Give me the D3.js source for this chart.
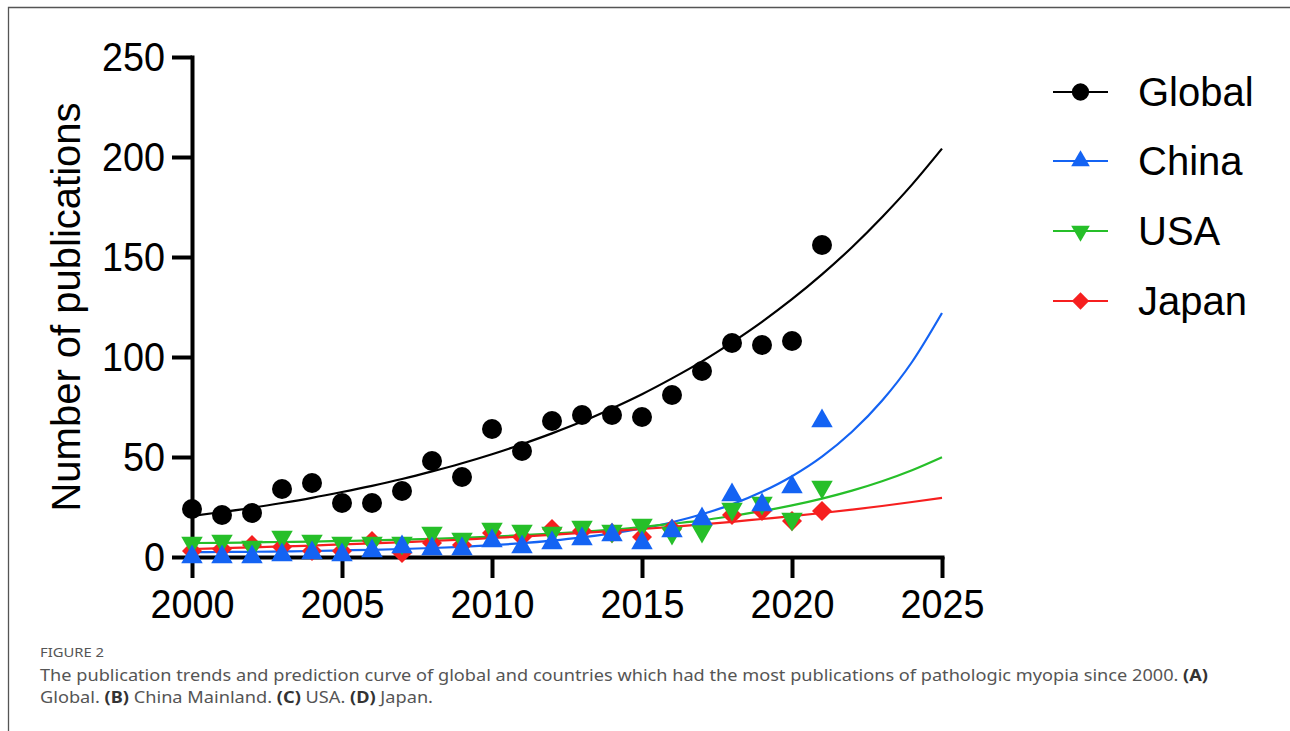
<!DOCTYPE html>
<html>
<head>
<meta charset="utf-8">
<script src="https://cdn.jsdelivr.net/npm/d3@7"></script>
<style>
body { margin: 0; background: #fff; }
</style>
</head>
<body>
<div id="chart"></div>
<script>

// Publications per year
var years = [2000,2001,2002,2003,2004,2005,2006,2007,2008,2009,2010,2011,2012,2013,2014,2015,2016,2017,2018,2019,2020,2021];
var globalCounts = [24,21,22,34,37,27,27,33,48,40,64,53,68,71,71,70,81,93,107,106,108,156];
var chinaCounts  = [0,0,0,1,2,1,3,5,4,4,8,5,7,9,11,7,13,19,31,26,35,68];
var usaCounts    = [7,8,5,10,8,7,7,7,12,9,14,13,12,15,13,16,12,13,24,27,19,35];
var japanCounts  = [3,4,6,5,3,3,8,2,7,6,12,10,14,13,12,10,14,16,21,23,18,23];

var fitYears  = [2000,2001,2002,2003,2004,2005,2006,2007,2008,2009,2010,2011,2012,
                 2013,2014,2015,2016,2017,2018,2019,2020,2021,2022,2023,2024,2025];
var globalFit = [20.5,22.5,24.6,27.0,29.6,32.5,35.6,39.0,42.8,46.9,51.4,56.4,61.8,
                 67.7,74.3,81.4,89.3,97.8,107.3,117.6,128.9,141.3,154.9,169.9,186.2,204.2];
var chinaFit  = [2.4,2.5,2.6,2.8,3.0,3.3,3.6,4.0,4.5,5.1,5.9,6.9,8.2,
                 9.8,11.8,14.3,17.4,21.4,26.3,32.6,40.4,50.2,62.6,78.1,97.5,122];
var usaFit    = [7.0,7.1,7.3,7.5,7.7,8.0,8.3,8.7,9.1,9.6,10.2,10.9,11.7,
                 12.6,13.7,15.0,16.6,18.3,20.5,22.9,25.8,29.2,33.2,37.9,43.4,49.9];
var japanFit  = [4.0,4.4,4.8,5.3,5.7,6.3,6.8,7.4,8.0,8.7,9.5,10.2,11.1,
                 12.0,13.0,14.0,15.1,16.3,17.6,19.0,20.4,22.0,23.7,25.5,27.5,29.6];

var seriesNames  = ["Global","China","USA","Japan"];
var seriesColors = ["#000000","#1463f3","#26bf29","#f61f1f"];

var xTicks = [2000,2005,2010,2015,2020,2025];
var yTicks = [0,50,100,150,200,250];

var width = 1290, height = 731;
var axisFont = "'Liberation Sans', Arial, Helvetica, sans-serif";

var svg = d3.select("#chart").append("svg")
	.attr("width",width).attr("height",height);

// page frame (top and left rule)
svg.append("path")
	.attr("d","M8.5," + height + "V7.5H" + width)
	.attr("fill","none")
	.attr("stroke","#555")
	.attr("stroke-width",1.3);

var x = d3.scaleLinear().domain([2000,2025]).range([192,942]);
var y = d3.scaleLinear().domain([0,250]).range([557,57]);

// Axes
var gx = svg.append("g")
	.attr("transform","translate(0," + y(0) + ")")
	.call(d3.axisBottom(x).tickValues(xTicks).tickFormat(d3.format("d"))
		.tickSize(21).tickSizeOuter(0).tickPadding(11));

var gy = svg.append("g")
	.attr("transform","translate(" + x(2000) + ",0)")
	.call(d3.axisLeft(y).tickValues(yTicks)
		.tickSize(20).tickSizeOuter(0).tickPadding(7));

[gx,gy].forEach(function(g) {
	g.selectAll("path,line").attr("stroke","#000").attr("stroke-width",4);
	g.select(".domain").attr("stroke-linecap","square");
	g.selectAll("text")
		.attr("font-family",axisFont)
		.attr("font-size",41)
		.attr("fill","#000")
		.each(function() {
			// tick numbers in the figure are a little narrower than Arial
			var len = this.getComputedTextLength();
			d3.select(this).attr("textLength",len*0.92).attr("lengthAdjust","spacingAndGlyphs");
		});
});

svg.append("text")
	.attr("transform","translate(80," + y(125) + ") rotate(-90)")
	.attr("text-anchor","middle")
	.attr("font-family",axisFont)
	.attr("font-size",40)
	.attr("fill","#000")
	.text("Number of publications");

// Curves
var line = d3.line()
	.x(function(d) { return x(d[0]); })
	.y(function(d) { return y(d[1]); })
	.curve(d3.curveMonotoneX);

var fits = [globalFit, chinaFit, usaFit, japanFit];
fits.forEach(function(f,i) {
	svg.append("path")
		.datum(fitYears.map(function(yr,j) { return [yr, f[j]]; }))
		.attr("d",line)
		.attr("fill","none")
		.attr("stroke",seriesColors[i])
		.attr("stroke-width",2.2);
});

// Markers
function markerPath(i, scale) {
	var s = scale || 1;
	if (i === 0) return d3.symbol().type(d3.symbolCircle).size(314*s)();
	if (i === 1 || i === 2) return d3.symbol().type(d3.symbolTriangle).size(200*s)();
	return d3.symbol().type(d3.symbolSquare).size(200*s)();
}
function markerRotate(i) {
	if (i === 2) return " rotate(180)";
	if (i === 3) return " rotate(45)";
	return "";
}

var counts = [globalCounts, chinaCounts, usaCounts, japanCounts];
var drawOrder = [0,3,2,1];
drawOrder.forEach(function(i) {
	svg.append("g").selectAll("path")
		.data(years.map(function(yr,j) { return [yr, counts[i][j]]; }))
		.join("path")
		.attr("d",markerPath(i))
		.attr("transform",function(d) {
			return "translate(" + x(d[0]) + "," + y(d[1]) + ")" + markerRotate(i);
		})
		.attr("fill",seriesColors[i]);
});

// Legend
var legendY = [92,161,231,301];
var legend = svg.append("g").selectAll("g")
	.data(seriesNames)
	.join("g")
	.attr("transform",function(d,i) { return "translate(0," + legendY[i] + ")"; });

legend.append("line")
	.attr("x1",1053).attr("x2",1108)
	.attr("stroke",function(d,i) { return seriesColors[i]; })
	.attr("stroke-width",2.2);

legend.append("path")
	.attr("d",function(d,i) { return markerPath(i,0.75); })
	.attr("transform",function(d,i) { return "translate(1080.5,0)" + markerRotate(i); })
	.attr("fill",function(d,i) { return seriesColors[i]; });

legend.append("text")
	.attr("x",1138).attr("y",14)
	.attr("font-family",axisFont)
	.attr("font-size",40)
	.attr("fill","#000")
	.text(function(d) { return d; });

// Caption
var caption = svg.append("g")
	.attr("font-family","'Noto Sans', 'Open Sans', sans-serif")
	.attr("fill","#555");

caption.append("text")
	.attr("x",40).attr("y",657)
	.attr("font-size",13)
	.attr("textLength",64).attr("lengthAdjust","spacingAndGlyphs")
	.text("FIGURE 2");

var cap1 = caption.append("text")
	.attr("x",40).attr("y",681)
	.attr("font-size",16.5)
	.attr("textLength",1168).attr("lengthAdjust","spacingAndGlyphs");
cap1.append("tspan").text("The publication trends and prediction curve of global and countries which had the most publications of pathologic myopia since 2000. ");
cap1.append("tspan").attr("font-weight","bold").attr("fill","#333").text("(A)");

var cap2 = caption.append("text")
	.attr("x",40).attr("y",703)
	.attr("font-size",16.5)
	.attr("textLength",393).attr("lengthAdjust","spacingAndGlyphs");
cap2.append("tspan").text("Global. ");
cap2.append("tspan").attr("font-weight","bold").attr("fill","#333").text("(B)");
cap2.append("tspan").text(" China Mainland. ");
cap2.append("tspan").attr("font-weight","bold").attr("fill","#333").text("(C)");
cap2.append("tspan").text(" USA. ");
cap2.append("tspan").attr("font-weight","bold").attr("fill","#333").text("(D)");
cap2.append("tspan").text(" Japan.");

</script>
</body>
</html>
